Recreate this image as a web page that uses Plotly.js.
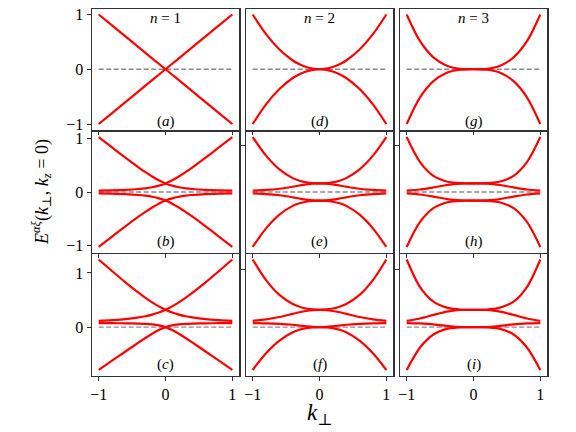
<!DOCTYPE html>
<html>
<head>
<meta charset="utf-8">
<script src="https://cdn.plot.ly/plotly-3.0.1.min.js"></script>
<style>
  body { margin: 0; background: #fff; }
  #chart { width: 576px; height: 432px; }
</style>
</head>
<body>
<div id="chart"></div>
<script>
// k_perp sample points
const K = [-1, -0.8, -0.6, -0.4, -0.3, -0.2, -0.1, 0, 0.1, 0.2, 0.3, 0.4, 0.6, 0.8, 1]

// row 1 (no coupling)
const aUp = [1, 0.8, 0.6, 0.4, 0.3, 0.2, 0.1, 0, -0.1, -0.2, -0.3, -0.4, -0.6, -0.8, -1]
const aDn = [-1, -0.8, -0.6, -0.4, -0.3, -0.2, -0.1, 0, 0.1, 0.2, 0.3, 0.4, 0.6, 0.8, 1]
const dUp = [1, 0.64, 0.36, 0.16, 0.09, 0.04, 0.01, 0, 0.01, 0.04, 0.09, 0.16, 0.36, 0.64, 1]
const dDn = [-1, -0.64, -0.36, -0.16, -0.09, -0.04, -0.01, 0, -0.01, -0.04, -0.09, -0.16, -0.36, -0.64, -1]
const gUp = [1, 0.512, 0.216, 0.064, 0.027, 0.008, 0.001, 0, 0.001, 0.008, 0.027, 0.064, 0.216, 0.512, 1]
const gDn = [-1, -0.512, -0.216, -0.064, -0.027, -0.008, -0.001, 0, -0.001, -0.008, -0.027, -0.064, -0.216, -0.512, -1]

// row 2
const b1 = [1.025, 0.831, 0.640, 0.456, 0.369, 0.289, 0.218, 0.16, 0.118, 0.089, 0.069, 0.056, 0.040, 0.031, 0.025]
const b2 = [0.025, 0.031, 0.040, 0.056, 0.069, 0.089, 0.118, 0.16, 0.218, 0.289, 0.369, 0.456, 0.640, 0.831, 1.025]
const b3 = [-1.025, -0.831, -0.640, -0.456, -0.369, -0.289, -0.218, -0.16, -0.118, -0.089, -0.069, -0.056, -0.040, -0.031, -0.025]
const b4 = [-0.025, -0.031, -0.040, -0.056, -0.069, -0.089, -0.118, -0.16, -0.218, -0.289, -0.369, -0.456, -0.640, -0.831, -1.025]

const eOut = [1.025, 0.678, 0.421, 0.259, 0.211, 0.181, 0.165, 0.16, 0.165, 0.181, 0.211, 0.259, 0.421, 0.678, 1.025]
const eIn = [0.025, 0.038, 0.061, 0.099, 0.121, 0.141, 0.155, 0.16, 0.155, 0.141, 0.121, 0.099, 0.061, 0.038, 0.025]
const eInN = [-0.025, -0.038, -0.061, -0.099, -0.121, -0.141, -0.155, -0.16, -0.155, -0.141, -0.121, -0.099, -0.061, -0.038, -0.025]
const eOutN = [-1.025, -0.678, -0.421, -0.259, -0.211, -0.181, -0.165, -0.16, -0.165, -0.181, -0.211, -0.259, -0.421, -0.678, -1.025]

const hOut = [1.025, 0.558, 0.301, 0.195, 0.174, 0.164, 0.161, 0.16, 0.161, 0.164, 0.174, 0.195, 0.301, 0.558, 1.025]
const hIn = [0.025, 0.046, 0.085, 0.131, 0.147, 0.156, 0.159, 0.16, 0.159, 0.156, 0.147, 0.131, 0.085, 0.046, 0.025]
const hInN = [-0.025, -0.046, -0.085, -0.131, -0.147, -0.156, -0.159, -0.16, -0.159, -0.156, -0.147, -0.131, -0.085, -0.046, -0.025]
const hOutN = [-1.025, -0.558, -0.301, -0.195, -0.174, -0.164, -0.161, -0.16, -0.161, -0.164, -0.174, -0.195, -0.301, -0.558, -1.025]

// row 3
const cA = [1.247, 1.034, 0.826, 0.631, 0.540, 0.457, 0.383, 0.32, 0.270, 0.231, 0.201, 0.179, 0.148, 0.130, 0.117]
const cB = [0.117, 0.130, 0.148, 0.179, 0.201, 0.231, 0.270, 0.32, 0.383, 0.457, 0.540, 0.631, 0.826, 1.034, 1.247]
const cC = [-0.790, -0.619, -0.449, -0.282, -0.201, -0.123, -0.054, 0, 0.033, 0.050, 0.059, 0.064, 0.070, 0.073, 0.075]
const cD = [0.075, 0.073, 0.070, 0.064, 0.059, 0.050, 0.033, 0, -0.054, -0.123, -0.201, -0.282, -0.449, -0.619, -0.790]

const fUo = [1.247, 0.867, 0.594, 0.426, 0.376, 0.344, 0.326, 0.32, 0.326, 0.344, 0.376, 0.426, 0.594, 0.867, 1.247]
const fUi = [0.117, 0.144, 0.187, 0.245, 0.274, 0.298, 0.314, 0.32, 0.314, 0.298, 0.274, 0.245, 0.187, 0.144, 0.117]
const fLi = [0.075, 0.071, 0.062, 0.044, 0.030, 0.016, 0.004, 0, 0.004, 0.016, 0.030, 0.044, 0.062, 0.071, 0.075]
const fLo = [-0.790, -0.483, -0.249, -0.094, -0.048, -0.019, -0.004, 0, -0.004, -0.019, -0.048, -0.094, -0.249, -0.483, -0.790]

const iUo = [1.247, 0.738, 0.469, 0.359, 0.336, 0.325, 0.321, 0.32, 0.321, 0.325, 0.336, 0.359, 0.469, 0.738, 1.247]
const iUi = [0.117, 0.160, 0.225, 0.286, 0.305, 0.316, 0.319, 0.32, 0.319, 0.316, 0.305, 0.286, 0.225, 0.160, 0.117]
const iLi = [0.075, 0.068, 0.052, 0.023, 0.011, 0.003, 0.0004, 0, 0.0004, 0.003, 0.011, 0.023, 0.052, 0.068, 0.075]
const iLo = [-0.790, -0.375, -0.135, -0.032, -0.013, -0.004, -0.0004, 0, -0.0004, -0.004, -0.013, -0.032, -0.135, -0.375, -0.790]

const colTitles = ["<i>n</i> = 1", "<i>n</i> = 2", "<i>n</i> = 3"]
const panelLabels = [["a", "d", "g"], ["b", "e", "h"], ["c", "f", "i"]]
const rowCurves = [
  [[aUp, aDn], [dUp, dDn], [gUp, gDn]],
  [[b1, b2, b3, b4], [eOut, eIn, eInN, eOutN], [hOut, hIn, hInN, hOutN]],
  [[cA, cB, cC, cD], [fUo, fUi, fLi, fLo], [iUo, iUi, iLi, iLo]],
]
const rowRanges = [[-1.1, 1.1], [-1.128, 1.128], [-0.892, 1.349]]
const rowTicks = [[-1, 0, 1], [-1, 0, 1], [0, 1]]
const innerTicks = [[], [0.86], [1.07]]

const W = 576, H = 432
const colPx = [[92, 239], [246, 393], [400, 547]]
const rowPx = [[9, 129.5], [131.5, 252.5], [254, 375.5]]
const labelPy = [121.5, 241.5, 364]

const font = "'Liberation Serif', 'DejaVu Serif', serif"
const frame = "#333"

const traces = []
const layout = {
  width: W,
  height: H,
  margin: { l: 0, r: 0, t: 0, b: 0 },
  paper_bgcolor: "#fff",
  plot_bgcolor: "#fff",
  showlegend: false,
  font: { family: font, size: 16, color: "#000" },
  annotations: [],
}

for (let r = 0; r < 3; r++) {
  for (let c = 0; c < 3; c++) {
    const i = r * 3 + c + 1
    const xa = i === 1 ? "x" : "x" + i
    const ya = i === 1 ? "y" : "y" + i

    // dashed zero line
    traces.push({
      x: [-1, 1], y: [0, 0], xaxis: xa, yaxis: ya, mode: "lines",
      line: { color: "#8a8a8a", width: 1.3, dash: "5px,2.5px" }, hoverinfo: "skip",
    })
    rowCurves[r][c].forEach((ys) => {
      traces.push({
        x: K, y: ys, xaxis: xa, yaxis: ya, mode: "lines",
        line: { color: "#ff0000", width: 2.2, shape: "spline", smoothing: 0.9 },
      })
    })

    const axisBase = {
      showline: true, mirror: true, linecolor: frame, linewidth: 1.5,
      ticks: "outside", ticklen: 4, tickwidth: 1, tickcolor: frame,
      showgrid: false, zeroline: false, fixedrange: true,
      tickfont: { family: font, size: 16, color: "#000" },
    }
    layout["xaxis" + (i === 1 ? "" : i)] = Object.assign({}, axisBase, {
      domain: [colPx[c][0] / W, colPx[c][1] / W],
      anchor: ya,
      range: [-1.1, 1.1],
      tickvals: [-1, 0, 1],
      ticktext: ["\u22121", "0", "1"],
      showticklabels: r === 2,
    })
    layout["yaxis" + (i === 1 ? "" : i)] = Object.assign({}, axisBase, {
      domain: [1 - rowPx[r][1] / H, 1 - rowPx[r][0] / H],
      anchor: xa,
      range: rowRanges[r],
      tickvals: c === 0 ? rowTicks[r] : innerTicks[r],
      ticktext: rowTicks[r].map((v) => (v < 0 ? "\u2212" + -v : String(v))),
      showticklabels: c === 0,
    })

    layout.annotations.push({
      xref: "paper", yref: "paper",
      x: (colPx[c][0] + colPx[c][1]) / 2 / W, y: 1 - labelPy[r] / H,
      xanchor: "center", yanchor: "middle", showarrow: false,
      text: "(<i>" + panelLabels[r][c] + "</i>)",
      font: { family: font, size: 15, color: "#000" },
    })
  }
}

// column titles on the top row
colTitles.forEach((t, c) => {
  layout.annotations.push({
    xref: "paper", yref: "paper",
    x: (colPx[c][0] + colPx[c][1]) / 2 / W, y: 1 - 17.5 / H,
    xanchor: "center", yanchor: "middle", showarrow: false,
    text: t, font: { family: font, size: 15, color: "#000" },
  })
})

// axis titles
layout.annotations.push({
  xref: "paper", yref: "paper", x: 41 / W, y: 1 - 192 / H,
  xanchor: "center", yanchor: "middle", showarrow: false, textangle: -90,
  text: "<i>E</i><sup><i>αξ</i></sup>(<i>k</i><sub>⊥</sub>, <i>k<sub>z</sub></i> = 0)",
  font: { family: font, size: 18, color: "#000" },
})
layout.annotations.push({
  xref: "paper", yref: "paper", x: 319.5 / W, y: 1 - 414 / H,
  xanchor: "center", yanchor: "middle", showarrow: false,
  text: "<i>k</i><sub>⊥</sub>",
  font: { family: font, size: 23, color: "#000" },
})

Plotly.newPlot("chart", traces, layout, { staticPlot: true, displayModeBar: false })
</script>
</body>
</html>
